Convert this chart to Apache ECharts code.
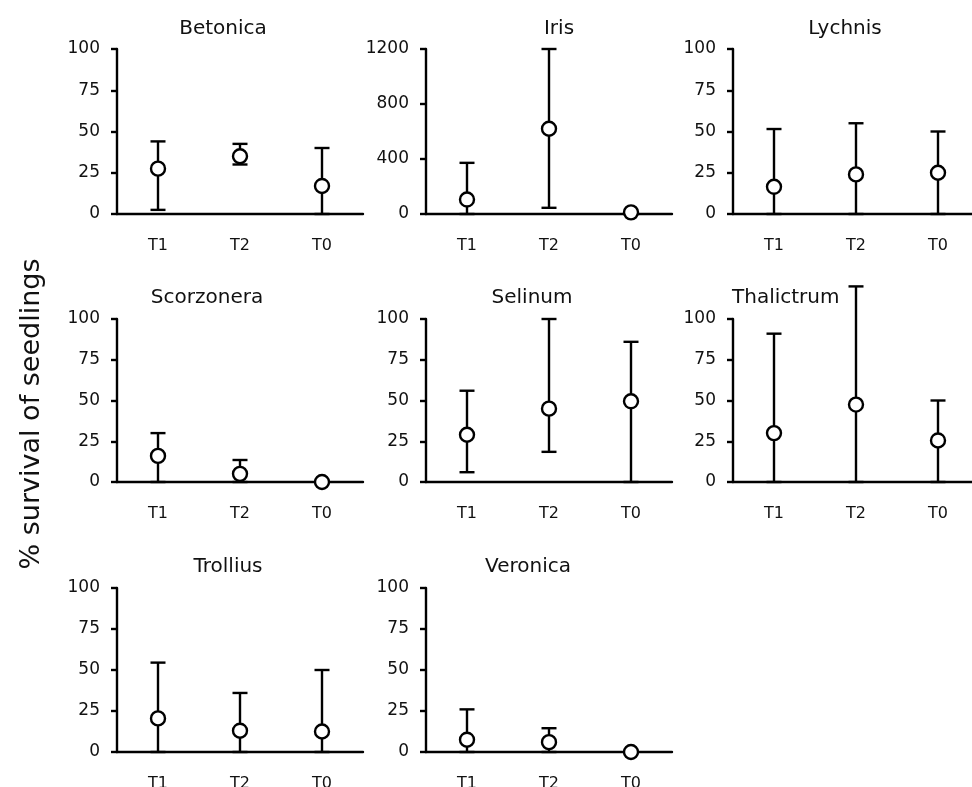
<!DOCTYPE html>
<html>
<head>
<meta charset="utf-8">
<script src="https://cdn.jsdelivr.net/npm/echarts@6/dist/echarts.min.js"></script>
<style>html,body{margin:0;padding:0;background:#fff}#c{width:972px;height:787px}</style>
</head>
<body>
<div id="c"></div>
<script>
const categories = ['T1', 'T2', 'T0'];
const species = ['Betonica', 'Iris', 'Lychnis', 'Scorzonera', 'Selinum', 'Thalictrum', 'Trollius', 'Veronica'];

const betonicaMean = [27.5, 35, 17];
const betonicaLow = [2.5, 30, 0];
const betonicaHigh = [44, 42.5, 40];

const irisMean = [105, 620, 12];
const irisLow = [0, 45, 0];
const irisHigh = [372, 1200, 12];

const lychnisMean = [16.5, 24, 25];
const lychnisLow = [0, 0, 0];
const lychnisHigh = [51.5, 55, 50];

const scorzoneraMean = [16, 5, 0];
const scorzoneraLow = [0, 0, 0];
const scorzoneraHigh = [30, 13.5, 0];

const selinumMean = [29, 45, 49.5];
const selinumLow = [6, 18.5, 0];
const selinumHigh = [56, 100, 86];

const thalictrumMean = [30, 47.5, 25.5];
const thalictrumLow = [0, 0, 0];
const thalictrumHigh = [91, 120, 50];

const trolliusMean = [20.5, 13, 12.5];
const trolliusLow = [0, 0, 0];
const trolliusHigh = [54.5, 36, 50];

const veronicaMean = [7.5, 6, 0];
const veronicaLow = [0, 0, 0];
const veronicaHigh = [26, 14.5, 0];

const pctTicks = { max: 100, interval: 25 };
const irisTicks = { max: 1200, interval: 400 };

const panels = [
  { mean: betonicaMean, low: betonicaLow, high: betonicaHigh, ticks: pctTicks },
  { mean: irisMean, low: irisLow, high: irisHigh, ticks: irisTicks },
  { mean: lychnisMean, low: lychnisLow, high: lychnisHigh, ticks: pctTicks },
  { mean: scorzoneraMean, low: scorzoneraLow, high: scorzoneraHigh, ticks: pctTicks },
  { mean: selinumMean, low: selinumLow, high: selinumHigh, ticks: pctTicks },
  { mean: thalictrumMean, low: thalictrumLow, high: thalictrumHigh, ticks: pctTicks },
  { mean: trolliusMean, low: trolliusLow, high: trolliusHigh, ticks: pctTicks },
  { mean: veronicaMean, low: veronicaLow, high: veronicaHigh, ticks: pctTicks }
];

// layout
const colX = [117, 426, 733];
const rowTop = [49, 319, 588];
const rowH = [165, 163, 164];
const gridW = 246;
const titlePos = [
  [223, 29, 'center'], [559, 29, 'center'], [845, 29, 'center'],
  [207, 298, 'center'], [532, 298, 'center'], [732, 298, 'left'],
  [228, 567, 'center'], [528, 567, 'center']
];

const FONT = 'DejaVu Sans, Verdana, sans-serif';
const LW = 2.4;
const grids = [], xAxes = [], yAxes = [], series = [], graphics = [];

panels.forEach((p, i) => {
  const r = Math.floor(i / 3), c = i % 3;
  grids.push({ left: colX[c], top: rowTop[r], width: gridW, height: rowH[r],
    containLabel: false, outerBoundsMode: 'none' });
  xAxes.push({
    type: 'category', gridIndex: i, data: categories, boundaryGap: true,
    axisLine: { lineStyle: { color: '#000', width: LW } },
    axisTick: { show: false },
    axisLabel: { color: '#111', fontFamily: FONT, fontSize: 16, margin: 24 }
  });
  yAxes.push({
    type: 'value', gridIndex: i, min: 0, max: p.ticks.max, interval: p.ticks.interval,
    axisLine: { show: true, lineStyle: { color: '#000', width: LW } },
    axisTick: { show: true, length: 6, lineStyle: { color: '#000', width: LW } },
    splitLine: { show: false },
    axisLabel: { color: '#111', fontFamily: FONT, fontSize: 17, margin: 17,
      formatter: function (v) { return String(v); } }
  });
  const errData = categories.map((cat, k) => [k, p.low[k], p.high[k]]);
  series.push({
    type: 'custom', xAxisIndex: i, yAxisIndex: i, clip: false, z: 2,
    data: errData,
    renderItem: function (params, api) {
      const x = api.value(0);
      const lo = api.coord([x, api.value(1)]);
      const hi = api.coord([x, api.value(2)]);
      const cap = 7.5;
      const st = { stroke: '#000', lineWidth: LW, fill: null };
      return {
        type: 'group',
        children: [
          { type: 'line', shape: { x1: lo[0], y1: lo[1], x2: hi[0], y2: hi[1] }, style: st },
          { type: 'line', shape: { x1: hi[0] - cap, y1: hi[1], x2: hi[0] + cap, y2: hi[1] }, style: st },
          { type: 'line', shape: { x1: lo[0] - cap, y1: lo[1], x2: lo[0] + cap, y2: lo[1] }, style: st }
        ]
      };
    }
  });
  series.push({
    type: 'scatter', xAxisIndex: i, yAxisIndex: i, clip: false, z: 5,
    symbol: 'circle', symbolSize: 14,
    itemStyle: { color: '#fff', borderColor: '#000', borderWidth: LW, opacity: 1 },
    data: categories.map((cat, k) => [k, p.mean[k]])
  });
  const tp = titlePos[i];
  graphics.push({
    type: 'text', x: tp[0], y: tp[1], z: 10,
    style: { text: species[i], fontFamily: FONT, fontSize: 20, fill: '#111',
      align: tp[2], verticalAlign: 'middle' }
  });
});

graphics.push({
  type: 'text', x: 32, y: 414, rotation: Math.PI / 2, z: 10,
  style: { text: '% survival of seedlings', fontFamily: FONT, fontSize: 27, fill: '#111',
    align: 'center', verticalAlign: 'middle' }
});

const chart = echarts.init(document.getElementById('c'), null, { renderer: 'canvas' });
chart.setOption({
  animation: false,
  backgroundColor: '#fff',
  grid: grids, xAxis: xAxes, yAxis: yAxes, series: series, graphic: graphics
});
</script>
</body>
</html>
